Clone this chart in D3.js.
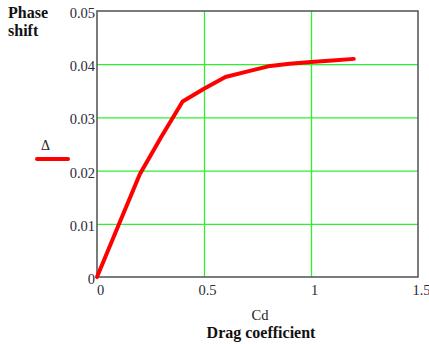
<!DOCTYPE html>
<html>
<head>
<meta charset="utf-8">
<script src="https://cdn.jsdelivr.net/npm/d3@7"></script>
<style>
  body { margin: 0; background: #fff; }
  svg { display: block; font-family: "Liberation Serif", "Times New Roman", serif; }
</style>
</head>
<body>
<svg id="chart" width="429" height="344"></svg>
<script>
// data
var cd = [0, 0.1, 0.2, 0.3, 0.4, 0.5, 0.6, 0.7, 0.8, 0.9, 1.0, 1.1, 1.2]
var delta = [0, 0.0097, 0.0193, 0.0263, 0.033, 0.0354, 0.0376, 0.0386, 0.0396, 0.0401, 0.0404, 0.0407, 0.041]
var xTicks = [0, 0.5, 1, 1.5]
var yTicks = [0, 0.01, 0.02, 0.03, 0.04, 0.05]
var xGrid = [0.5, 1]
var yGrid = [0.01, 0.02, 0.03, 0.04]

var svg = d3.select("#chart")
// plot box (note: "top" is taken by window.top)
var pLeft = 97, pRight = 418, pTop = 11, pBottom = 277

var x = d3.scaleLinear().domain([0, 1.5]).range([pLeft, pRight])
var y = d3.scaleLinear().domain([0, 0.05]).range([pBottom, pTop])

// green grid
svg.append("g")
  .attr("transform", "translate(0," + pBottom + ")")
  .call(d3.axisBottom(x).tickValues(xGrid).tickSize(-(pBottom - pTop)).tickFormat(""))
  .call(g => g.select(".domain").remove())
  .selectAll("line").attr("stroke", "#2ef02e").attr("stroke-width", 1.3)

svg.append("g")
  .attr("transform", "translate(" + pLeft + ",0)")
  .call(d3.axisLeft(y).tickValues(yGrid).tickSize(-(pRight - pLeft)).tickFormat(""))
  .call(g => g.select(".domain").remove())
  .selectAll("line").attr("stroke", "#2ef02e").attr("stroke-width", 1.3)

// frame
svg.append("rect")
  .attr("x", pLeft).attr("y", pTop)
  .attr("width", pRight - pLeft).attr("height", pBottom - pTop)
  .attr("fill", "none").attr("stroke", "#5a5a5a").attr("stroke-width", 1.6)

// tick labels
var xAxis = svg.append("g")
  .attr("transform", "translate(3," + pBottom + ")")
  .call(d3.axisBottom(x).tickValues(xTicks).tickSize(0).tickPadding(8).tickFormat(d3.format("")))
xAxis.select(".domain").remove()
xAxis.selectAll("text").attr("font-size", "14.5px").attr("fill", "#2a2a3a").style("font-family", "Liberation Serif")

var yAxis = svg.append("g")
  .attr("transform", "translate(" + pLeft + ",0)")
  .call(d3.axisLeft(y).tickValues(yTicks).tickSize(0).tickPadding(2).tickFormat(d3.format("")))
yAxis.select(".domain").remove()
yAxis.selectAll("text").attr("font-size", "14.5px").attr("fill", "#2a2a3a").attr("dy", "0.45em").style("font-family", "Liberation Serif")

// curve
var line = d3.line().x((d, i) => x(cd[i])).y(d => y(d))
svg.append("path")
  .datum(delta)
  .attr("d", line)
  .attr("fill", "none")
  .attr("stroke", "#ff0000")
  .attr("stroke-width", 4)
  .attr("stroke-linecap", "round")
  .attr("stroke-linejoin", "round")

// legend
svg.append("text").attr("x", 45.5).attr("y", 150).text("\u0394")
  .attr("text-anchor", "middle").attr("font-size", "14px").attr("fill", "#222")
svg.append("line").attr("x1", 37).attr("x2", 68).attr("y1", 159).attr("y2", 159)
  .attr("stroke", "#ff0000").attr("stroke-width", 4).attr("stroke-linecap", "round")

// titles
svg.append("text").attr("x", 8).attr("y", 18).text("Phase")
  .attr("font-size", "16px").attr("font-weight", "bold").attr("fill", "#111")
svg.append("text").attr("x", 8).attr("y", 36).text("shift")
  .attr("font-size", "16px").attr("font-weight", "bold").attr("fill", "#111")
svg.append("text").attr("x", 260).attr("y", 320).text("Cd")
  .attr("text-anchor", "middle").attr("font-size", "14.5px").attr("fill", "#222")
svg.append("text").attr("x", 261).attr("y", 338).text("Drag coefficient")
  .attr("text-anchor", "middle").attr("font-size", "16px").attr("font-weight", "bold").attr("fill", "#111")
</script>
</body>
</html>
